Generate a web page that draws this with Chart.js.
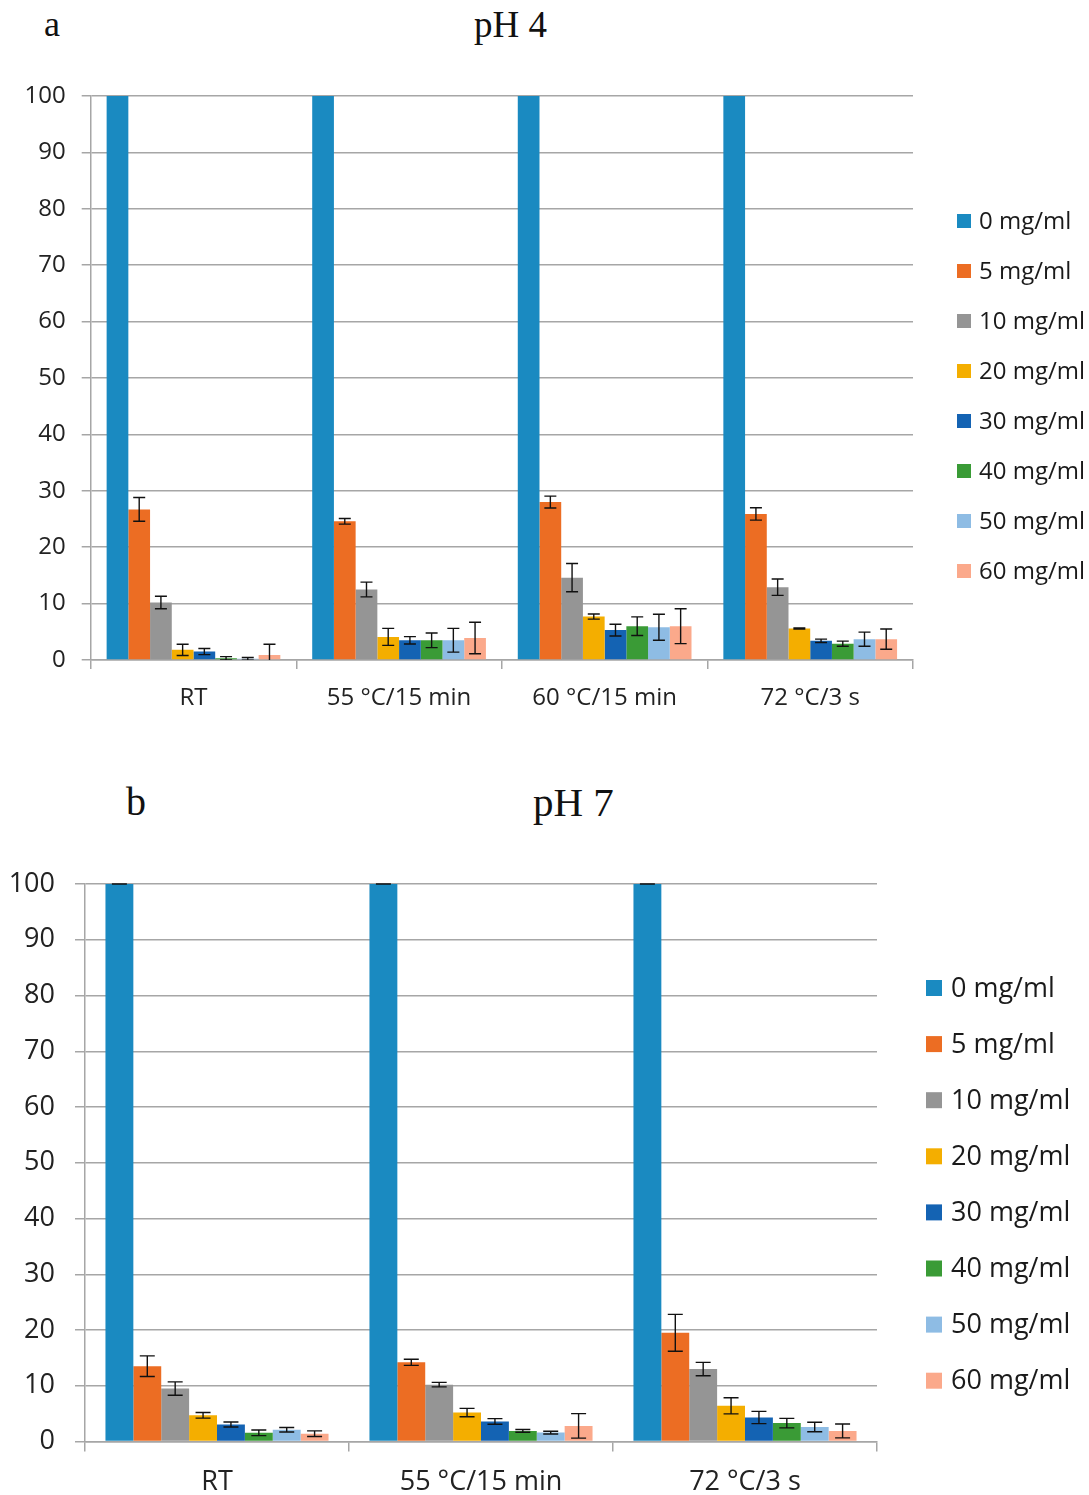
<!DOCTYPE html>
<html>
<head>
<meta charset="utf-8">
<script src="https://cdn.jsdelivr.net/npm/chart.js@4/dist/chart.umd.min.js"></script>
<style>
  html, body { margin: 0; padding: 0; background: #ffffff; }
  #wrap { position: relative; width: 1089px; height: 1495px; overflow: hidden; }
  canvas { position: absolute; left: 0; }
  .ttl { position: absolute; font-family: "Liberation Serif", "DejaVu Serif", serif; color: #111; white-space: nowrap; line-height: 1; }
</style>
</head>
<body>
<div id="wrap">
  <div class="ttl" style="left:44px; top:6px; font-size:36px;">a</div>
  <div class="ttl" style="left:474px; top:6px; font-size:37px;">pH 4</div>
  <div class="ttl" style="left:126px; top:782px; font-size:40px;">b</div>
  <div class="ttl" style="left:533px; top:782px; font-size:41px;">pH 7</div>
  <canvas id="c1" width="1089" height="740" style="top:0px;"></canvas>
  <canvas id="c2" width="1089" height="755" style="top:740px;"></canvas>
</div>
<script>
// ---------- data ----------
const seriesLabels = ['0 mg/ml', '5 mg/ml', '10 mg/ml', '20 mg/ml', '30 mg/ml', '40 mg/ml', '50 mg/ml', '60 mg/ml'];
const seriesColors = ['#1A8AC1', '#EC6D23', '#959595', '#F4AE00', '#1463B3', '#3A9B36', '#8EBCE4', '#FBA98B'];
const yTicks = [0, 10, 20, 30, 40, 50, 60, 70, 80, 90, 100];

// pH 4
const ph4Categories = ['RT', '55 °C/15 min', '60 °C/15 min', '72 °C/3 s'];
const ph4_0  = [100, 100, 100, 100];
const ph4_5  = [26.7, 24.6, 28.0, 25.9];
const ph4_10 = [10.2, 12.5, 14.6, 12.9];
const ph4_20 = [1.8, 4.1, 7.7, 5.6];
const ph4_30 = [1.5, 3.5, 5.3, 3.4];
const ph4_40 = [0.3, 3.5, 6.0, 2.9];
const ph4_50 = [0.2, 3.5, 5.8, 3.7];
const ph4_60 = [0.9, 3.9, 6.0, 3.7];
const ph4Err_0  = [null, null, null, null];
const ph4Err_5  = [2.1, 0.5, 1.05, 1.1];
const ph4Err_10 = [1.1, 1.3, 2.5, 1.45];
const ph4Err_20 = [1.0, 1.5, 0.45, 0.1];
const ph4Err_30 = [0.55, 0.65, 1.05, 0.3];
const ph4Err_40 = [0.3, 1.3, 1.65, 0.45];
const ph4Err_50 = [0.25, 2.1, 2.3, 1.25];
const ph4Err_60 = [1.9, 2.8, 3.1, 1.8];

// pH 7
const ph7Categories = ['RT', '55 °C/15 min', '72 °C/3 s'];
const ph7_0  = [100, 100, 100];
const ph7_5  = [13.5, 14.2, 19.5];
const ph7_10 = [9.5, 10.2, 13.0];
const ph7_20 = [4.7, 5.2, 6.4];
const ph7_30 = [3.05, 3.6, 4.3];
const ph7_40 = [1.55, 1.9, 3.3];
const ph7_50 = [2.1, 1.6, 2.6];
const ph7_60 = [1.4, 2.8, 1.9];
const ph7Err_0  = [0, 0, 0];
const ph7Err_5  = [1.85, 0.55, 3.3];
const ph7Err_10 = [1.2, 0.4, 1.2];
const ph7Err_20 = [0.5, 0.75, 1.45];
const ph7Err_30 = [0.45, 0.5, 1.1];
const ph7Err_40 = [0.5, 0.25, 0.85];
const ph7Err_50 = [0.4, 0.25, 0.85];
const ph7Err_60 = [0.5, 2.2, 1.25];

const ph4Values = [ph4_0, ph4_5, ph4_10, ph4_20, ph4_30, ph4_40, ph4_50, ph4_60];
const ph4Errors = [ph4Err_0, ph4Err_5, ph4Err_10, ph4Err_20, ph4Err_30, ph4Err_40, ph4Err_50, ph4Err_60];
const ph7Values = [ph7_0, ph7_5, ph7_10, ph7_20, ph7_30, ph7_40, ph7_50, ph7_60];
const ph7Errors = [ph7Err_0, ph7Err_5, ph7Err_10, ph7Err_20, ph7Err_30, ph7Err_40, ph7Err_50, ph7Err_60];

// ---------- plugins ----------
const errorBarPlugin = {
  id: 'errorBars',
  afterDatasetsDraw(chart, args, opts) {
    const ctx = chart.ctx;
    const y = chart.scales.y;
    const area = chart.chartArea;
    ctx.save();
    ctx.beginPath();
    ctx.rect(area.left, area.top - 3, area.right - area.left, area.bottom - area.top + 3);
    ctx.clip();
    ctx.strokeStyle = '#111';
    ctx.lineWidth = opts.lineWidth;
    chart.data.datasets.forEach((ds, i) => {
      const meta = chart.getDatasetMeta(i);
      meta.data.forEach((bar, j) => {
        const e = ds.errors[j];
        if (e === null || e === undefined) return;
        const v = ds.data[j];
        const yTop = y.getPixelForValue(v + e);
        const yBot = y.getPixelForValue(v - e);
        const x = bar.x;
        const hw = opts.capWidth / 2;
        ctx.beginPath();
        ctx.moveTo(x, yTop); ctx.lineTo(x, yBot);
        ctx.moveTo(x - hw, yTop); ctx.lineTo(x + hw, yTop);
        ctx.moveTo(x - hw, yBot); ctx.lineTo(x + hw, yBot);
        ctx.stroke();
      });
    });
    ctx.restore();
  }
};

const sideLegendPlugin = {
  id: 'sideLegend',
  afterDraw(chart, args, opts) {
    const ctx = chart.ctx;
    ctx.save();
    ctx.font = opts.fontSize + 'px "Open Sans"';
    ctx.textBaseline = 'middle';
    ctx.textAlign = 'left';
    chart.data.datasets.forEach((ds, i) => {
      const cy = opts.top + i * opts.step;
      ctx.fillStyle = ds.backgroundColor;
      ctx.fillRect(opts.boxX, cy - opts.box / 2, opts.box, opts.box);
      ctx.fillStyle = '#1a1a1a';
      ctx.fillText(ds.label, opts.textX, cy + 1);
    });
    ctx.restore();
  }
};

function buildDatasets(values, errors) {
  return seriesLabels.map((lab, i) => ({
    label: lab,
    data: values[i],
    errors: errors[i],
    backgroundColor: seriesColors[i],
    borderWidth: 0,
    barPercentage: 1.0,
    categoryPercentage: 0.845
  }));
}

function makeChart(id, categories, values, errors, cfg) {
  return new Chart(document.getElementById(id), {
    type: 'bar',
    data: { labels: categories, datasets: buildDatasets(values, errors) },
    options: {
      responsive: false,
      animation: false,
      devicePixelRatio: 1,
      layout: { padding: { top: cfg.padTop, right: cfg.padRight, left: 0, bottom: 0 } },
      plugins: {
        legend: { display: false },
        tooltip: { enabled: false },
        title: { display: false },
        errorBars: { capWidth: cfg.capWidth, lineWidth: 1.4 },
        sideLegend: cfg.legend
      },
      scales: {
        x: {
          afterFit(scale) { scale.height = cfg.xHeight; },
          grid: { drawOnChartArea: false, drawTicks: true, tickLength: cfg.tick, color: '#a6a6a6', lineWidth: 1.5, offset: true },
          border: { display: true, color: '#a6a6a6', width: 1.5 },
          ticks: { color: '#222', font: { family: 'Open Sans', size: cfg.font }, padding: cfg.xPad, maxRotation: 0, autoSkip: false }
        },
        y: {
          min: 0, max: 100,
          afterFit(scale) { scale.width = cfg.yWidth; },
          afterBuildTicks(scale) { scale.ticks = yTicks.map(v => ({ value: v })); },
          grid: { drawTicks: true, tickLength: cfg.tick, color: '#a6a6a6', lineWidth: 1.5 },
          border: { display: true, color: '#a6a6a6', width: 1.5 },
          ticks: { color: '#222', font: { family: 'Open Sans', size: cfg.font }, padding: cfg.yPad }
        }
      }
    },
    plugins: [errorBarPlugin, sideLegendPlugin]
  });
}

makeChart('c1', ph4Categories, ph4Values, ph4Errors, {
  padTop: 96, padRight: 176, xHeight: 80, yWidth: 90.7, tick: 9, font: 24, xPad: 15, yPad: 16, capWidth: 12,
  legend: { top: 221, step: 50, boxX: 957, box: 14, textX: 979, fontSize: 24 }
});
makeChart('c2', ph7Categories, ph7Values, ph7Errors, {
  padTop: 144, padRight: 212, xHeight: 53.5, yWidth: 85, tick: 10, font: 27, xPad: 15, yPad: 20, capWidth: 15,
  legend: { top: 248, step: 56.1, boxX: 926, box: 16, textX: 951, fontSize: 27 }
});
</script>
</body>
</html>
